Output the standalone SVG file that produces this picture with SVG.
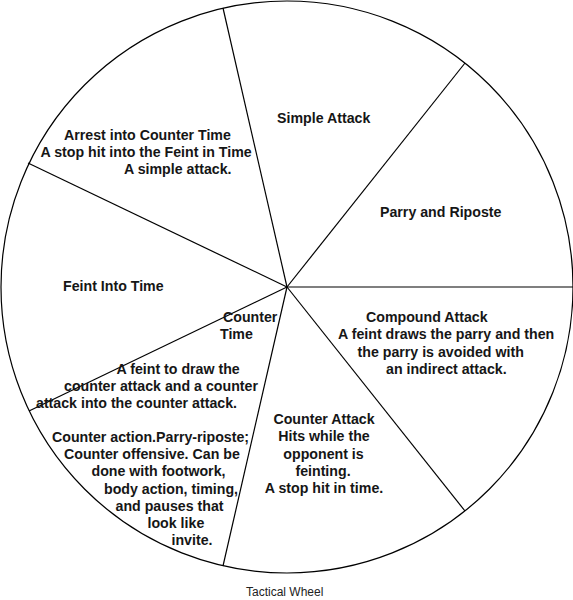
<svg xmlns="http://www.w3.org/2000/svg" width="573" height="600" viewBox="0 0 573 600">
<style>
.t{font-family:"Liberation Sans",Arial,sans-serif;font-size:14.2px;font-weight:bold;fill:#161616}
.c{text-anchor:middle}
.ln{stroke:#000;stroke-width:1.2;fill:none}
.cap{font-family:"Liberation Sans",Arial,sans-serif;font-size:12px;fill:#222}
</style>
<rect width="573" height="600" fill="#fff"/>
<g id="wheel">
<circle class="ln" cx="287" cy="287" r="286" stroke-width="1.5"/>
</g>
<g id="connectors">
<line class="ln" x1="287" y1="287" x2="223" y2="8"/>
<line class="ln" x1="287" y1="287" x2="465" y2="63"/>
<line class="ln" x1="287" y1="287" x2="573" y2="287" stroke-width="1.8"/>
<line class="ln" x1="287" y1="287" x2="465" y2="511"/>
<line class="ln" x1="287" y1="287" x2="223" y2="566"/>
<line class="ln" x1="287" y1="287" x2="29" y2="411"/>
<line class="ln" x1="287" y1="287" x2="28" y2="163"/>
</g>
<g id="simple-attack">
<text class="t" x="277" y="123">Simple Attack</text>
</g>
<g id="parry-riposte">
<text class="t" x="380" y="217">Parry and Riposte</text>
</g>
<g id="compound-attack">
<text class="t" x="366" y="322">Compound Attack</text>
<text class="t" x="338" y="339">A feint draws the parry and then</text>
<text class="t" x="357.5" y="356.5">the parry is avoided with</text>
<text class="t" x="386" y="374">an indirect attack.</text>
</g>
<g id="counter-attack">
<text class="t c" x="324" y="423.5">Counter Attack</text>
<text class="t c" x="324" y="441">Hits while the</text>
<text class="t c" x="323.5" y="458.5">opponent is</text>
<text class="t c" x="323" y="475.5">feinting.</text>
<text class="t c" x="324" y="492.5">A stop hit in time.</text>
</g>
<g id="counter-action">
<text class="t" x="52" y="442">Counter action.Parry-riposte;</text>
<text class="t" x="64" y="459">Counter offensive. Can be</text>
<text class="t" x="91.5" y="476">done with footwork,</text>
<text class="t" x="104" y="493.5">body action, timing,</text>
<text class="t" x="115.5" y="510.5">and pauses that</text>
<text class="t" x="147.5" y="527.5">look like</text>
<text class="t" x="171.5" y="545">invite.</text>
</g>
<g id="counter-time">
<text class="t" x="223" y="321.5">Counter</text>
<text class="t" x="220" y="338.5">Time</text>
<text class="t" x="116.5" y="373.5">A feint to draw the</text>
<text class="t" x="64" y="390.5">counter attack and a counter</text>
<text class="t" x="36" y="407.5">attack into the counter attack.</text>
</g>
<g id="feint-into-time">
<text class="t" x="63" y="291">Feint Into Time</text>
</g>
<g id="arrest">
<text class="t" x="64" y="139.5">Arrest into Counter Time</text>
<text class="t" x="40.5" y="156.5">A stop hit into the Feint in Time</text>
<text class="t" x="124" y="173.5">A simple attack.</text>
</g>
<g id="caption">
<text class="cap" x="246" y="595.5">Tactical Wheel</text>
</g>
</svg>
